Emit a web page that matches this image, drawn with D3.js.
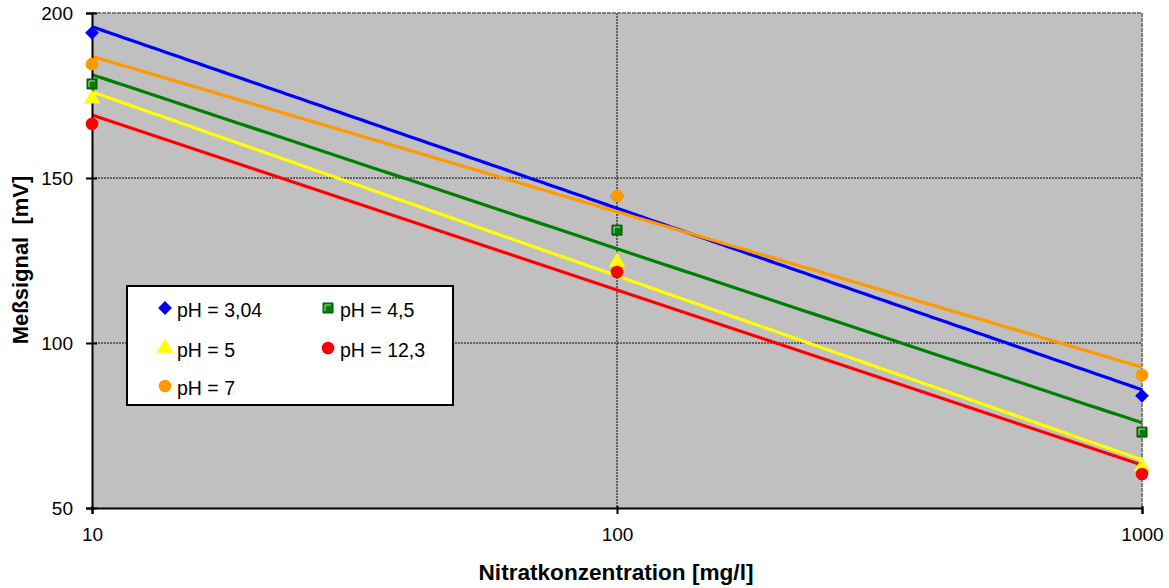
<!DOCTYPE html>
<html><head><meta charset="utf-8">
<script src="https://cdn.jsdelivr.net/npm/d3@7"></script>
<style>body{margin:0;background:#fff}svg{display:block}text{font-family:"Liberation Sans",Arial,sans-serif}</style>
</head><body><svg id="c" width="1169" height="588"></svg>
<script>
const concentrations = [10, 100, 1000];
const seriesNames = ["pH = 3,04", "pH = 4,5", "pH = 5", "pH = 12,3", "pH = 7"];
const ph304 = [194, 144.5, 84];
const ph45 = [178.5, 134.2, 73];
const ph5 = [174, 124.5, 62.5];
const ph123 = [166.4, 121.5, 60.3];
const ph7 = [184.5, 144.5, 90.3];
const xTicks = [10, 100, 1000];
const yTicks = [50, 100, 150, 200];

const series = [
  {name: seriesNames[0], values: ph304, color: "#0000FF", sym: "diamond"},
  {name: seriesNames[1], values: ph45, color: "#008000", sym: "square"},
  {name: seriesNames[2], values: ph5, color: "#FFFF00", sym: "triangle"},
  {name: seriesNames[3], values: ph123, color: "#FF0000", sym: "circle"},
  {name: seriesNames[4], values: ph7, color: "#FF9900", sym: "circle"}
];
const drawOrder = [0, 4, 1, 2, 3];

const svg = d3.select("#c");
const L = 92, R = 1142, T = 13, B = 508;
const x = d3.scaleLog().domain([10, 1000]).range([L, R]);
const y = d3.scaleLinear().domain([50, 200]).range([B, T]);

svg.append("rect").attr("x", L).attr("y", T).attr("width", R - L).attr("height", B - T).attr("fill", "#C0C0C0");

// grid
svg.append("g").selectAll("line").data([100, 150]).join("line")
  .attr("x1", L).attr("x2", R).attr("y1", d => y(d)).attr("y2", d => y(d))
  .attr("stroke", "#000").attr("stroke-width", 1).attr("stroke-dasharray", "2,1");
svg.append("line").attr("x1", x(100)).attr("x2", x(100)).attr("y1", T).attr("y2", B)
  .attr("stroke", "#000").attr("stroke-width", 1).attr("stroke-dasharray", "2,1");
// top/right border
svg.append("path").attr("d", `M${L},${T}H${R}V${B}`).attr("fill", "none")
  .attr("stroke", "#808080").attr("stroke-width", 2).attr("stroke-dasharray", "4,1");

// trendlines (logarithmic least-squares fit of each series)
function fit(vals) {
  const lx = concentrations.map(c => Math.log10(c));
  const mx = d3.mean(lx), my = d3.mean(vals);
  let num = 0, den = 0;
  lx.forEach((v, i) => { num += (v - mx) * (vals[i] - my); den += (v - mx) ** 2; });
  const b = num / den, a = my - b * mx;
  return c => a + b * Math.log10(c);
}
const samples = d3.range(0, 201).map(i => Math.pow(10, 1 + i / 100));
const line = d3.line().x(d => x(d[0])).y(d => y(d[1]));
drawOrder.forEach(i => {
  const s = series[i], f = fit(s.values);
  svg.append("path").attr("d", line(samples.map(c => [c, f(c)])))
    .attr("fill", "none").attr("stroke", s.color).attr("stroke-width", 3.2);
});

// axes
const yAxis = svg.append("g").attr("transform", `translate(${L},0)`)
  .call(d3.axisLeft(y).tickValues(yTicks).tickSize(6).tickPadding(12));
const xAxis = svg.append("g").attr("transform", `translate(0,${B})`)
  .call(d3.axisBottom(x).tickValues(xTicks).tickFormat(d3.format("d")).tickSize(6).tickPadding(16));
[yAxis, xAxis].forEach(g => {
  g.attr("font-size", 19).attr("font-family", '"Liberation Sans", Arial, sans-serif');
  g.select(".domain").attr("stroke", "#000").attr("stroke-width", 2);
  g.selectAll(".tick line").attr("stroke", "#000").attr("stroke-width", 2);
  g.selectAll(".tick text").style("font-size", "19px").attr("fill", "#000");
});
yAxis.selectAll(".tick line").attr("x1", 5);
yAxis.selectAll(".tick text").attr("x", -19);
xAxis.selectAll(".tick line").attr("y1", -2);
xAxis.selectAll(".tick text").attr("y", 20);

// markers
const symMap = {diamond: d3.symbolSquare, square: d3.symbolSquare, triangle: d3.symbolTriangle, circle: d3.symbolCircle};
const sizeMap = {diamond: 95, square: 100, triangle: 120, circle: 125};
function marker(g, s, cx, cy) {
  const p = g.append("path").attr("d", d3.symbol().type(symMap[s.sym]).size(sizeMap[s.sym])())
    .attr("transform", `translate(${cx},${cy})` + (s.sym === "diamond" ? " rotate(45)" : "")).attr("fill", s.color);
  if (s.sym === "square") {
    p.attr("stroke", "#005000").attr("stroke-width", 1);
    g.append("path").attr("d", `M${cx-3},${cy+3}V${cy-3}H${cx+3}`).attr("fill", "none")
      .attr("stroke", "#fff").attr("stroke-width", 1).attr("opacity", 0.7);
  }
}
const mg = svg.append("g");
drawOrder.forEach(i => {
  const s = series[i];
  concentrations.forEach((c, j) => marker(mg, s, x(c), y(s.values[j])));
});

// legend
const lg = svg.append("g");
lg.append("rect").attr("x", 127).attr("y", 286).attr("width", 326).attr("height", 119)
  .attr("fill", "#fff").attr("stroke", "#000").attr("stroke-width", 2);
const legPos = [[165, 310], [328, 310], [165, 350], [328, 350], [165, 388]];
series.forEach((s, i) => {
  const [lx, ly] = legPos[i];
  marker(lg, s, lx, ly - 2);
  lg.append("text").attr("x", lx + 12).attr("y", ly + 7).style("font-size", "19.5px").attr("fill", "#000").text(s.name);
});

// axis titles
svg.append("text").attr("x", 616).attr("y", 580).attr("text-anchor", "middle")
  .style("font-size", "22.6px").attr("font-weight", "bold").text("Nitratkonzentration [mg/l]");
svg.append("text").attr("transform", "translate(28,260) rotate(-90)").attr("text-anchor", "middle")
  .style("font-size", "22px").attr("font-weight", "bold").attr("xml:space", "preserve").text("Meßsignal  [mV]");
</script></body></html>
